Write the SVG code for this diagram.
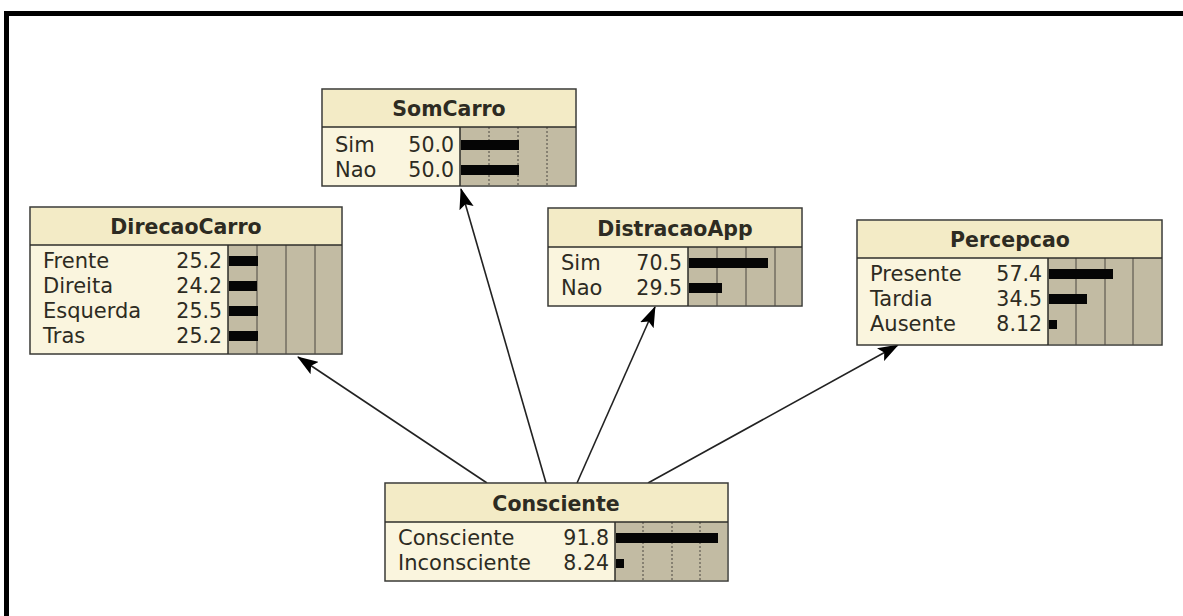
<svg xmlns="http://www.w3.org/2000/svg" width="1183" height="616" viewBox="0 0 1183 616">
  <style>
    .box { fill: #faf5de; stroke: #3a3a36; stroke-width: 1.5; }
    .head { fill: #f3ebc6; }
    .rule { stroke: #2e2e2a; stroke-width: 1.5; }
    .barbg { fill: #c2bba3; }
    .grid { stroke: #4a4740; stroke-width: 1; }
    .dot { stroke: #4a4740; stroke-width: 1; stroke-dasharray: 2 2; }
    .bar { fill: #050505; }
    .title { font-family: "DejaVu Sans", sans-serif; font-weight: bold; font-size: 20.5px; fill: #2d2b22; text-anchor: middle; }
    .lbl { font-family: "DejaVu Sans", sans-serif; font-size: 21px; fill: #2d2b22; }
    .val { font-family: "DejaVu Sans", sans-serif; font-size: 20.5px; fill: #2d2b22; text-anchor: end; }
    .edge { stroke: #222; stroke-width: 1.6; fill: none; marker-end: url(#head); }
  </style>
  <defs>
    <marker id="head" viewBox="0 0 20 14" refX="19" refY="7" markerWidth="21" markerHeight="15" markerUnits="userSpaceOnUse" orient="auto">
      <path d="M0,0 L20,7 L0,14 L4,7 Z" fill="#000"/>
    </marker>
  </defs>

  <rect width="1183" height="616" fill="#fff"/>
  <!-- window frame -->
  <path d="M4,616 V11 H1183 V16 H9 V616 Z" fill="#000"/>

  <!-- connectors: Consciente is the parent of every other node -->
  <g id="connectors">
    <line class="edge" x1="487" y1="483" x2="298" y2="357"/>
    <line class="edge" x1="546" y1="483" x2="461" y2="189"/>
    <line class="edge" x1="577" y1="483" x2="655" y2="307"/>
    <line class="edge" x1="648" y1="483" x2="898" y2="345"/>
  </g>

  <!-- SomCarro -->
  <g id="node-somcarro">
    <rect class="box" x="322" y="89" width="254" height="97"/>
    <rect class="head" x="323" y="90" width="252" height="37"/>
    <rect class="barbg" x="460" y="127" width="115" height="58"/>
    <line class="dot" x1="489" y1="127" x2="489" y2="186"/>
    <line class="dot" x1="518" y1="127" x2="518" y2="186"/>
    <line class="dot" x1="547" y1="127" x2="547" y2="186"/>
    <line class="rule" x1="322" y1="127" x2="576" y2="127"/>
    <line class="rule" x1="460" y1="127" x2="460" y2="186"/>
    <text class="title" x="449" y="116">SomCarro</text>
    <text class="lbl" x="335" y="152">Sim</text>
    <text class="val" x="454" y="152">50.0</text>
    <rect class="bar" x="461" y="140" width="58" height="10"/>
    <text class="lbl" x="335" y="177">Nao</text>
    <text class="val" x="454" y="177">50.0</text>
    <rect class="bar" x="461" y="165" width="58" height="10"/>
  </g>

  <!-- DirecaoCarro -->
  <g id="node-direcaocarro">
    <rect class="box" x="30" y="207" width="312" height="147"/>
    <rect class="head" x="31" y="208" width="310" height="37"/>
    <rect class="barbg" x="228" y="245" width="113" height="108"/>
    <line class="grid" x1="257" y1="245" x2="257" y2="354"/>
    <line class="grid" x1="286" y1="245" x2="286" y2="354"/>
    <line class="grid" x1="315" y1="245" x2="315" y2="354"/>
    <line class="rule" x1="30" y1="245" x2="342" y2="245"/>
    <line class="rule" x1="228" y1="245" x2="228" y2="354"/>
    <text class="title" x="186" y="234">DirecaoCarro</text>
    <text class="lbl" x="43" y="268">Frente</text>
    <text class="val" x="222" y="268">25.2</text>
    <rect class="bar" x="229" y="256" width="29" height="10"/>
    <text class="lbl" x="43" y="293">Direita</text>
    <text class="val" x="222" y="293">24.2</text>
    <rect class="bar" x="229" y="281" width="28" height="10"/>
    <text class="lbl" x="43" y="318">Esquerda</text>
    <text class="val" x="222" y="318">25.5</text>
    <rect class="bar" x="229" y="306" width="29" height="10"/>
    <text class="lbl" x="43" y="343">Tras</text>
    <text class="val" x="222" y="343">25.2</text>
    <rect class="bar" x="229" y="331" width="29" height="10"/>
  </g>

  <!-- DistracaoApp -->
  <g id="node-distracaoapp">
    <rect class="box" x="548" y="208" width="254" height="98"/>
    <rect class="head" x="549" y="209" width="252" height="38"/>
    <rect class="barbg" x="688" y="247" width="113" height="58"/>
    <line class="grid" x1="717" y1="247" x2="717" y2="306"/>
    <line class="grid" x1="746" y1="247" x2="746" y2="306"/>
    <line class="grid" x1="775" y1="247" x2="775" y2="306"/>
    <line class="rule" x1="548" y1="247" x2="802" y2="247"/>
    <line class="rule" x1="688" y1="247" x2="688" y2="306"/>
    <text class="title" x="675" y="236">DistracaoApp</text>
    <text class="lbl" x="561" y="270">Sim</text>
    <text class="val" x="682" y="270">70.5</text>
    <rect class="bar" x="689" y="258" width="79" height="10"/>
    <text class="lbl" x="561" y="295">Nao</text>
    <text class="val" x="682" y="295">29.5</text>
    <rect class="bar" x="689" y="283" width="33" height="10"/>
  </g>

  <!-- Percepcao -->
  <g id="node-percepcao">
    <rect class="box" x="857" y="220" width="305" height="125"/>
    <rect class="head" x="858" y="221" width="303" height="37"/>
    <rect class="barbg" x="1048" y="258" width="113" height="86"/>
    <line class="grid" x1="1076" y1="258" x2="1076" y2="345"/>
    <line class="grid" x1="1105" y1="258" x2="1105" y2="345"/>
    <line class="grid" x1="1133" y1="258" x2="1133" y2="345"/>
    <line class="rule" x1="857" y1="258" x2="1162" y2="258"/>
    <line class="rule" x1="1048" y1="258" x2="1048" y2="345"/>
    <text class="title" x="1010" y="247">Percepcao</text>
    <text class="lbl" x="870" y="281">Presente</text>
    <text class="val" x="1042" y="281">57.4</text>
    <rect class="bar" x="1049" y="269" width="64" height="10"/>
    <text class="lbl" x="870" y="306">Tardia</text>
    <text class="val" x="1042" y="306">34.5</text>
    <rect class="bar" x="1049" y="294" width="38" height="10"/>
    <text class="lbl" x="870" y="331">Ausente</text>
    <text class="val" x="1042" y="331">8.12</text>
    <rect class="bar" x="1049" y="320" width="8" height="9"/>
  </g>

  <!-- Consciente -->
  <g id="node-consciente">
    <rect class="box" x="385" y="483" width="343" height="98"/>
    <rect class="head" x="386" y="484" width="341" height="38"/>
    <rect class="barbg" x="615" y="522" width="112" height="58"/>
    <line class="dot" x1="643" y1="522" x2="643" y2="581"/>
    <line class="dot" x1="672" y1="522" x2="672" y2="581"/>
    <line class="dot" x1="700" y1="522" x2="700" y2="581"/>
    <line class="rule" x1="385" y1="522" x2="728" y2="522"/>
    <line class="rule" x1="615" y1="522" x2="615" y2="581"/>
    <text class="title" x="556" y="511">Consciente</text>
    <text class="lbl" x="398" y="545">Consciente</text>
    <text class="val" x="609" y="545">91.8</text>
    <rect class="bar" x="616" y="533" width="102" height="10"/>
    <text class="lbl" x="398" y="570">Inconsciente</text>
    <text class="val" x="609" y="570">8.24</text>
    <rect class="bar" x="616" y="559" width="8" height="9"/>
  </g>
</svg>
